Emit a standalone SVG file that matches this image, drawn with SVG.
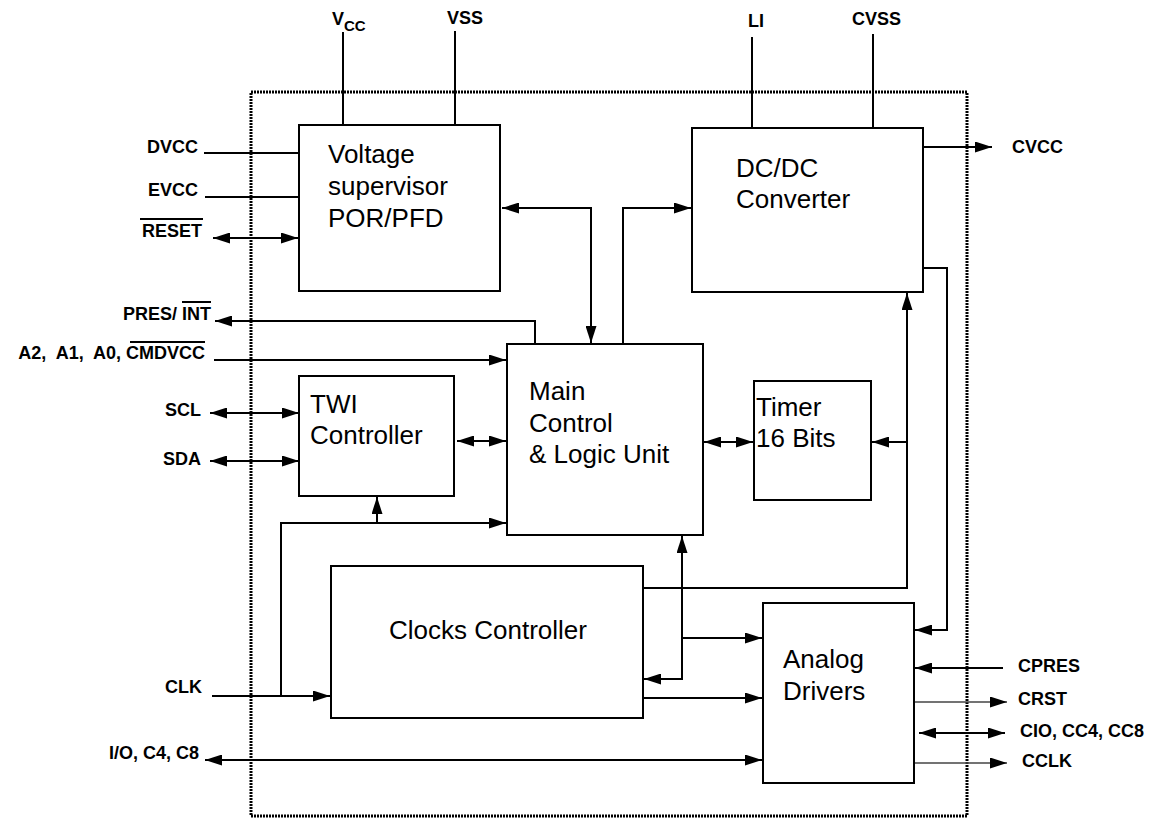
<svg xmlns="http://www.w3.org/2000/svg" width="1155" height="818" viewBox="0 0 1155 818">
<style>
.box{fill:#fff;stroke:#000;stroke-width:2}
.bt{font-family:"Liberation Sans",Arial,sans-serif;font-size:26px;fill:#000}
.lb{font-family:"Liberation Sans",Arial,sans-serif;font-size:18px;font-weight:bold;fill:#000;white-space:pre}
.c path{fill:none;stroke:#000;stroke-width:2}
.c path.thin{stroke:#444;stroke-width:1.3}
.ol{stroke:#000;stroke-width:2}
</style>
<defs>
<marker id="ah" viewBox="0 0 17 11" refX="17" refY="5.5" markerWidth="17" markerHeight="11" markerUnits="userSpaceOnUse" orient="auto-start-reverse"><path d="M0,0 L17,5.5 L0,11 z" fill="#000"/></marker>
</defs>
<rect id="border" x="251" y="92" width="716" height="724" fill="none" stroke="#000" stroke-width="3" stroke-dasharray="2 1"/>
<g class="c" id="connectors">
<path d="M204,153 H299"/>
<path d="M205,197 H299"/>
<path d="M213,238 H298" marker-start="url(#ah)" marker-end="url(#ah)"/>
<path d="M343,32 V125"/>
<path d="M455,31 V125"/>
<path d="M752,37 V128"/>
<path d="M873,34 V128"/>
<path d="M923,147 H992" marker-end="url(#ah)"/>
<path d="M502,208 H591 V343" marker-start="url(#ah)" marker-end="url(#ah)"/>
<path d="M623,344 V208 H691" marker-end="url(#ah)"/>
<path d="M535,344 V321 H215" marker-end="url(#ah)"/>
<path d="M214,360 H506" marker-end="url(#ah)"/>
<path d="M210,413 H299" marker-start="url(#ah)" marker-end="url(#ah)"/>
<path d="M210,461 H299" marker-start="url(#ah)" marker-end="url(#ah)"/>
<path d="M457,441 H506" marker-start="url(#ah)" marker-end="url(#ah)"/>
<path d="M281,696 V523 H506" marker-end="url(#ah)"/>
<path d="M377,523 V497" marker-end="url(#ah)"/>
<path d="M212,696 H330" marker-end="url(#ah)"/>
<path d="M644,679 H682 V536" marker-start="url(#ah)" marker-end="url(#ah)"/>
<path d="M682,638 H762" marker-end="url(#ah)"/>
<path d="M643,698 H762" marker-end="url(#ah)"/>
<path d="M205,760 H762" marker-start="url(#ah)" marker-end="url(#ah)"/>
<path d="M643,588 H907 V293" marker-end="url(#ah)"/>
<path d="M907,442 H872" marker-end="url(#ah)"/>
<path d="M704,442 H753" marker-start="url(#ah)" marker-end="url(#ah)"/>
<path d="M923,268 H947 V630 H915" marker-end="url(#ah)"/>
<path d="M1003,668 H915" marker-end="url(#ah)"/>
<path class="thin" d="M914,702 H1007" marker-end="url(#ah)"/>
<path d="M919,733 H1005" marker-start="url(#ah)" marker-end="url(#ah)"/>
<path class="thin" d="M914,763 H1007" marker-end="url(#ah)"/>
</g>
<g id="voltage-supervisor">
<rect class="box" x="299" y="125" width="201" height="166"/>
<text class="bt" x="328" y="163">Voltage</text>
<text class="bt" x="328" y="195">supervisor</text>
<text class="bt" x="328" y="227">POR/PFD</text>
</g>
<g id="dcdc-converter">
<rect class="box" x="692" y="128" width="231" height="164"/>
<text class="bt" x="736" y="177">DC/DC</text>
<text class="bt" x="736" y="208">Converter</text>
</g>
<g id="twi-controller">
<rect class="box" x="299" y="376" width="155" height="120"/>
<text class="bt" x="310" y="413">TWI</text>
<text class="bt" x="310" y="444">Controller</text>
</g>
<g id="main-control">
<rect class="box" x="507" y="344" width="196" height="191"/>
<text class="bt" x="529" y="400">Main</text>
<text class="bt" x="529" y="432">Control</text>
<text class="bt" x="529" y="463">&amp; Logic Unit</text>
</g>
<g id="timer">
<rect class="box" x="754" y="381" width="117" height="119"/>
<text class="bt" x="756" y="416">Timer</text>
<text class="bt" x="756" y="447">16 Bits</text>
</g>
<g id="clocks-controller">
<rect class="box" x="331" y="566" width="312" height="152"/>
<text class="bt" x="389" y="639">Clocks Controller</text>
</g>
<g id="analog-drivers">
<rect class="box" x="763" y="603" width="151" height="180"/>
<text class="bt" x="783" y="668">Analog</text>
<text class="bt" x="783" y="700">Drivers</text>
</g>
<g id="labels">
<text class="lb" x="332" y="25">V<tspan font-size="15" dy="6">CC</tspan></text>
<text class="lb" x="447" y="24">VSS</text>
<text class="lb" x="748" y="27">LI</text>
<text class="lb" x="852" y="25">CVSS</text>
<text class="lb" x="198" y="153" text-anchor="end">DVCC</text>
<text class="lb" x="198" y="196" text-anchor="end">EVCC</text>
<text class="lb" x="202" y="237" text-anchor="end">RESET</text>
<line class="ol" x1="140" y1="219" x2="203" y2="219"/>
<text class="lb" x="211" y="320" text-anchor="end">PRES/ INT</text>
<line class="ol" x1="182" y1="302" x2="211" y2="302"/>
<text class="lb" x="205" y="359" text-anchor="end" font-size="17">A2,  A1,  A0, CMDVCC</text>
<line class="ol" x1="130" y1="342" x2="205" y2="342"/>
<text class="lb" x="201" y="416" text-anchor="end">SCL</text>
<text class="lb" x="201" y="465" text-anchor="end">SDA</text>
<text class="lb" x="202" y="693" text-anchor="end">CLK</text>
<text class="lb" x="199" y="759" text-anchor="end">I/O, C4, C8</text>
<text class="lb" x="1012" y="153">CVCC</text>
<text class="lb" x="1018" y="672">CPRES</text>
<text class="lb" x="1018" y="705">CRST</text>
<text class="lb" x="1020" y="737">CIO, CC4, CC8</text>
<text class="lb" x="1022" y="767">CCLK</text>
</g>
</svg>
